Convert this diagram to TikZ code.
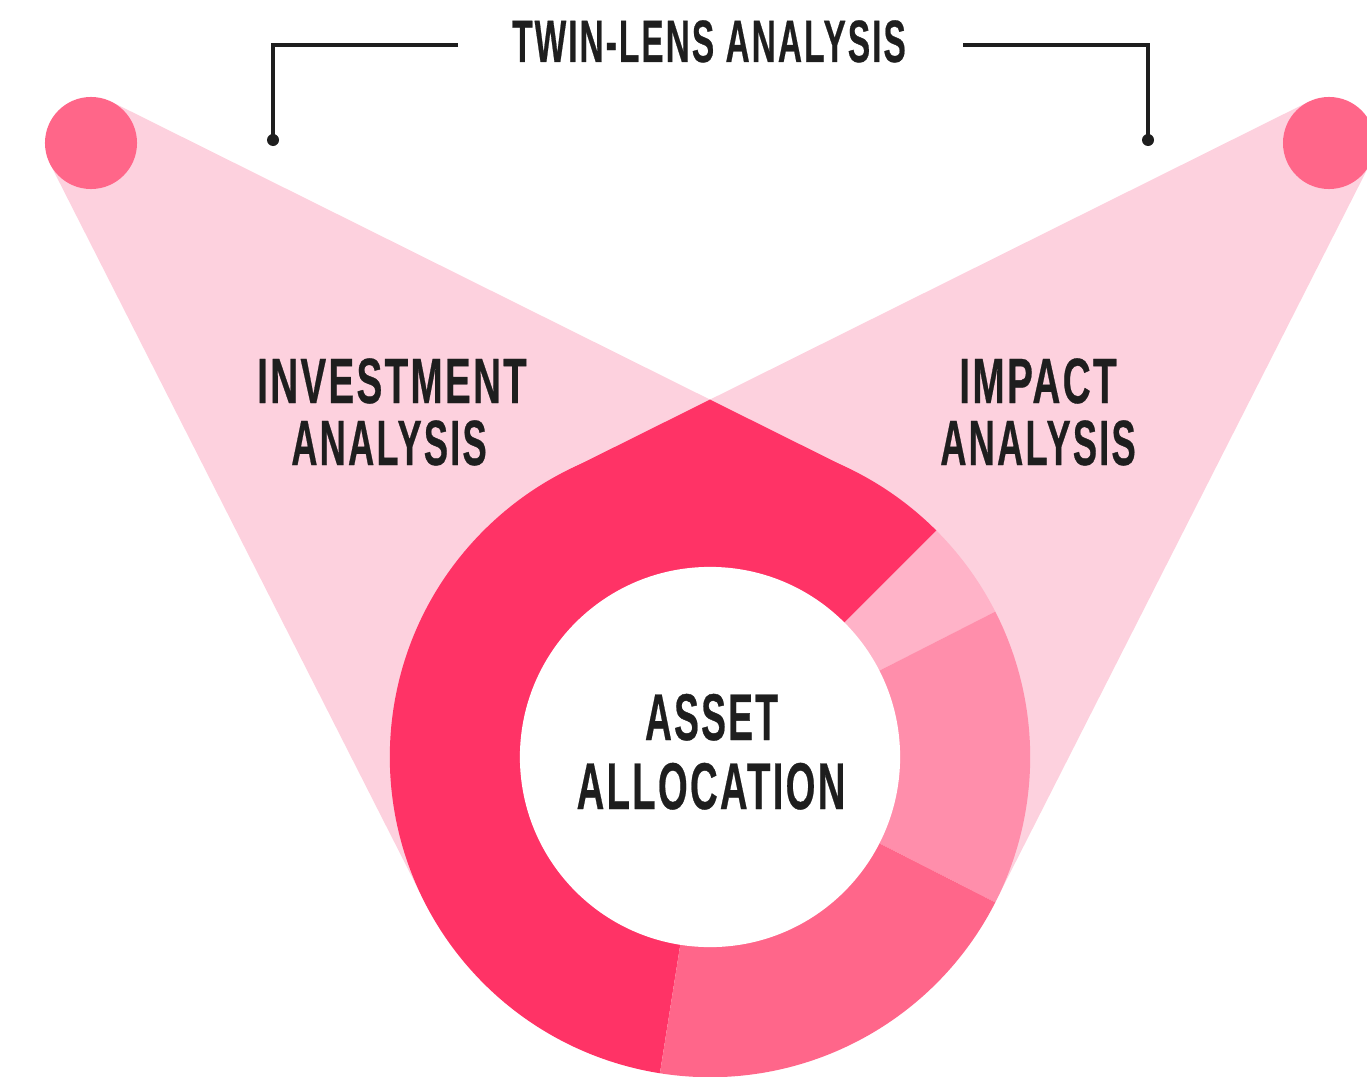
\documentclass[tikz,border=0pt]{standalone}
\usepackage{fontspec}
\usepackage{graphicx}
\setmainfont{Liberation Sans}
\newfontfamily\headfont{Liberation Sans}[LetterSpace=6,BoldFeatures={FakeBold=0.6}]
\definecolor{ink}{HTML}{1E1E1E}
\definecolor{conecol}{HTML}{FDD1DE}
\definecolor{dotcol}{HTML}{FF6689}
\definecolor{segA}{HTML}{FF3366}
\definecolor{segB}{HTML}{FFB3C8}
\definecolor{segC}{HTML}{FF8EAB}
\definecolor{segD}{HTML}{FF668A}
\begin{document}
\begin{tikzpicture}[x=0.01cm,y=0.01cm,
  lbl/.style={inner sep=0pt, anchor=base, text=ink},
  fA/.style={font=\headfont\bfseries\fontsize{17}{20}\selectfont},
  fB/.style={font=\headfont\bfseries\fontsize{18.2}{22}\selectfont},
  fC/.style={font=\headfont\bfseries\fontsize{18.8}{22}\selectfont},
  bracketline/.style={draw=ink, line width=0.04cm},
  conefill/.style={fill=conecol},
  dotfill/.style={fill=dotcol}]
\useasboundingbox (0,0) rectangle (1367,-1076);
\clip (0,0) rectangle (1367,-1076);

\coordinate (C) at (710,-757);
\coordinate (L) at (91,-143);
\coordinate (R) at (1329,-143);

% cones (convex hulls of the small circles and the donut)
\fill[conefill] (111.5,-101.8) -- (852.5,-470.5) -- (424.6,-901.8) -- (50.0,-163.8) -- cycle;
\fill[conefill] (1308.5,-101.8) -- (567.5,-470.5) -- (995.4,-901.8) -- (1370,-163.8) -- cycle;

% red cap where both cones overlap
\fill[segA] (567.5,-470.5) -- (710,-399.6) -- (852.5,-470.5) -- (C) -- cycle;

% donut segments
\fill[segA] (C) -- ++(45:3.2cm) arc[start angle=45,end angle=261,radius=3.2cm] -- cycle;
\fill[segB] (C) -- ++(27:3.2cm) arc[start angle=27,end angle=45,radius=3.2cm] -- cycle;
\fill[segC] (C) -- ++(-27:3.2cm) arc[start angle=-27,end angle=27,radius=3.2cm] -- cycle;
\fill[segD] (C) -- ++(-99:3.2cm) arc[start angle=-99,end angle=-27,radius=3.2cm] -- cycle;
\fill[white] (C) circle[radius=1.9cm];

% lens circles
\fill[dotfill] (L) circle[radius=0.46cm];
\fill[dotfill] (R) circle[radius=0.46cm];

% bracket
\coordinate (bl1) at (458,-45);
\coordinate (bl2) at (273,-45);
\coordinate (bl3) at (273,-140);
\coordinate (br1) at (963,-45);
\coordinate (br2) at (1148,-45);
\coordinate (br3) at (1148,-140);
\draw[bracketline] (bl1) -- (bl2) -- (bl3);
\draw[bracketline] (br1) -- (br2) -- (br3);
\fill[ink] (bl3) circle[radius=0.06cm];
\fill[ink] (br3) circle[radius=0.06cm];

% texts
\node[lbl,fA] (title) at (709,-62) {\scalebox{0.560}[1]{TWIN-LENS ANALYSIS}};
\node[lbl,fB] (inv1) at (392,-403) {\scalebox{0.603}[1]{INVESTMENT}};
\node[lbl,fB] (inv2) at (389,-465) {\scalebox{0.567}[1]{ANALYSIS}};
\node[lbl,fB] (imp1) at (1038,-403) {\scalebox{0.606}[1]{IMPACT}};
\node[lbl,fB] (imp2) at (1038,-465) {\scalebox{0.567}[1]{ANALYSIS}};
\node[lbl,fC] (ast1) at (711.5,-740) {\scalebox{0.5625}[1]{ASSET}};
\node[lbl,fC] (ast2) at (711,-809) {\scalebox{0.579}[1]{ALLOCATION}};
\end{tikzpicture}
\end{document}
